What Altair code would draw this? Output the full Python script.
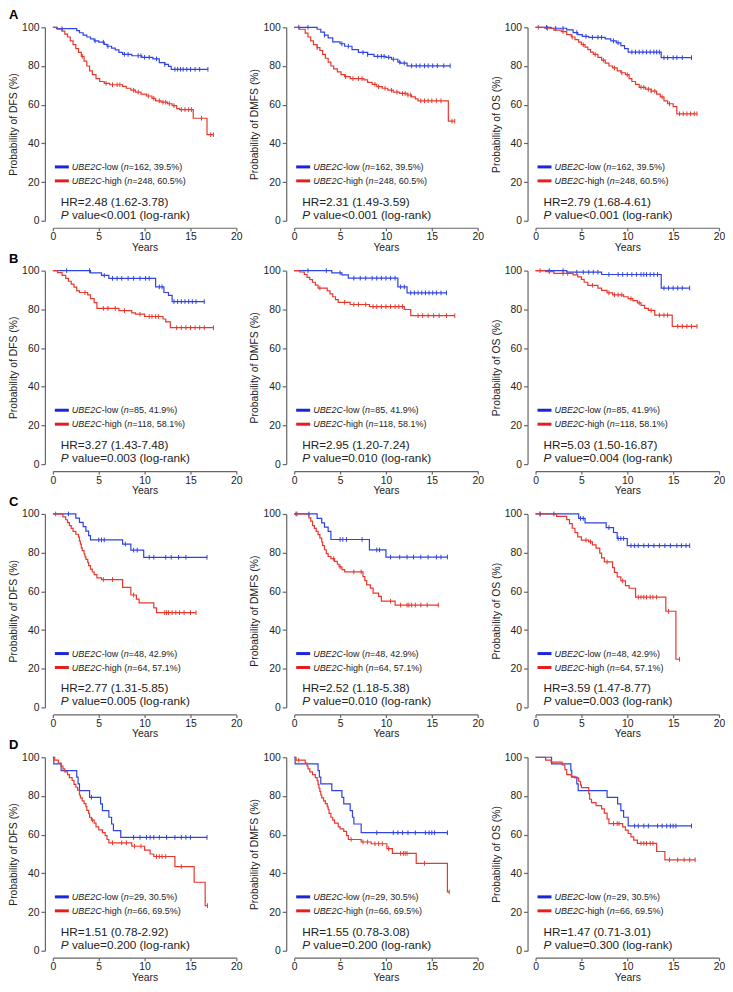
import altair as alt
import pandas as pd

FONT = "Liberation Sans"

# ---------------- text content ----------------
ROW_LETTERS = ["A", "B", "C", "D"]
ENDPOINTS = ["DFS", "DMFS", "OS"]
LOW_N = ["162, 39.5%", "85, 41.9%", "48, 42.9%", "29, 30.5%"]
HIGH_N = ["248, 60.5%", "118, 58.1%", "64, 57.1%", "66, 69.5%"]
HR_TEXT = [
    ["2.48 (1.62-3.78)", "2.31 (1.49-3.59)", "2.79 (1.68-4.61)"],
    ["3.27 (1.43-7.48)", "2.95 (1.20-7.24)", "5.03 (1.50-16.87)"],
    ["2.77 (1.31-5.85)", "2.52 (1.18-5.38)", "3.59 (1.47-8.77)"],
    ["1.51 (0.78-2.92)", "1.55 (0.78-3.08)", "1.47 (0.71-3.01)"],
]
P_TEXT = [
    ["<0.001", "<0.001", "<0.001"],
    ["=0.003", "=0.010", "=0.004"],
    ["=0.005", "=0.010", "=0.003"],
    ["=0.200", "=0.200", "=0.300"],
]
X_TICKS = [0, 5, 10, 15, 20]
Y_TICKS = [0, 20, 40, 60, 80, 100]

# ---------------- survival curves (years, %), censor times ----------------
A_DFS_LOW_T = [0, 0.4, 2.6, 2.9, 3.3, 3.7, 4.1, 4.5, 5.0, 5.6, 5.9, 6.4, 6.8, 7.2, 7.6, 8.6, 9.7, 10.9, 11.6, 12.2, 12.6, 12.9]
A_DFS_LOW_S = [100, 99.3, 98.3, 97.2, 96, 95, 94, 93, 92.3, 91.2, 90.2, 89.2, 88.3, 87, 86, 85.3, 84.5, 83.7, 81.7, 80.8, 79.8, 78.3]
A_DFS_LOW_END = 16.9
A_DFS_LOW_C = [1.0, 4.6, 5.5, 6.0, 7.8, 8.2, 9.3, 9.6, 10.0, 10.5, 11.3, 12.2, 13.3, 13.6, 13.9, 14.2, 14.6, 15.0, 15.5, 16.0, 16.9]
A_DFS_HIGH_T = [0, 0.5, 1.0, 1.3, 1.6, 1.9, 2.2, 2.5, 2.8, 3.1, 3.4, 3.7, 4.0, 4.3, 4.7, 5.1, 5.6, 6.2, 7.6, 8.0, 8.5, 9.0, 9.6, 10.2, 10.8, 11.2, 11.8, 12.5, 13.0, 13.5, 13.8, 15.3, 16.8]
A_DFS_HIGH_S = [100, 99, 98, 96.5, 95, 93, 91, 89, 87, 85, 82.5, 80, 77.5, 75.5, 73.5, 72, 71, 70.3, 69.5, 68.5, 67.5, 66.5, 65.5, 64.5, 63.3, 62, 61.3, 60.5, 59.5, 58, 57.5, 53, 44.5]
A_DFS_HIGH_END = 17.5
A_DFS_HIGH_C = [3.2, 5.8, 6.5, 7.0, 7.3, 8.8, 9.3, 10.4, 11.0, 11.6, 12.0, 12.3, 12.7, 13.2, 14.0, 14.4, 14.8, 15.1, 16.2, 17.2, 17.5]

A_DMFS_LOW_T = [0, 2.5, 2.9, 3.3, 3.7, 4.2, 5.0, 5.5, 6.3, 7.0, 8.0, 8.7, 10.0, 10.6, 11.3, 11.6, 12.3]
A_DMFS_LOW_S = [100, 99, 97.5, 96, 94.5, 92.5, 91.5, 90.2, 88.5, 87, 86, 85, 84.5, 83.5, 82, 81.5, 80.1]
A_DMFS_LOW_END = 17.0
A_DMFS_LOW_C = [0.5, 1.5, 3.3, 5.2, 5.9, 7.5, 8.0, 9.1, 9.5, 9.8, 10.3, 10.8, 11.5, 12.0, 12.8, 13.3, 13.7, 14.2, 14.6, 15.1, 15.6, 16.3, 17.0]
A_DMFS_HIGH_T = [0, 0.6, 1.2, 1.5, 1.8, 2.1, 2.5, 2.8, 3.1, 3.4, 3.7, 4.0, 4.3, 4.7, 5.1, 5.5, 6.1, 7.6, 8.0, 8.5, 9.0, 9.6, 10.2, 10.8, 11.5, 12.3, 12.8, 13.2, 13.5, 16.8]
A_DMFS_HIGH_S = [100, 99, 97, 95, 93, 91, 89.5, 88, 86, 84, 82, 80, 78.5, 77, 75.5, 74.5, 73.5, 72.8, 71.5, 70.5, 69.3, 68.5, 67.5, 66.5, 65.8, 65, 64, 63, 62, 51.5]
A_DMFS_HIGH_END = 17.5
A_DMFS_HIGH_C = [2.5, 5.6, 6.4, 7.0, 7.4, 8.8, 9.2, 9.9, 10.6, 11.2, 11.8, 12.1, 12.4, 12.7, 13.8, 14.2, 14.6, 15.0, 15.5, 16.0, 17.2, 17.5]

A_OS_LOW_T = [0, 1.7, 3.4, 4.1, 4.6, 5.1, 5.8, 7.6, 8.2, 8.8, 9.3, 9.7, 10.1, 13.7]
A_OS_LOW_S = [100, 99.5, 98.7, 97.3, 96.2, 95.3, 94.8, 94, 93, 92, 90.5, 89, 87.2, 84.3]
A_OS_LOW_END = 17.0
A_OS_LOW_C = [1.2, 2.2, 3.0, 4.5, 5.5, 6.2, 6.8, 7.2, 8.5, 9.0, 10.5, 10.9, 11.3, 11.7, 12.1, 12.5, 12.9, 13.2, 13.5, 14.0, 14.4, 15.0, 15.4, 16.0, 17.0]
A_OS_HIGH_T = [0, 1.0, 2.0, 2.8, 3.4, 3.9, 4.3, 4.7, 5.0, 5.4, 5.7, 6.0, 6.3, 6.8, 7.2, 7.6, 8.0, 8.4, 8.9, 9.3, 9.8, 10.2, 10.5, 10.9, 11.3, 12.0, 12.6, 13.2, 13.6, 14.0, 14.4, 15.0, 15.4]
A_OS_HIGH_S = [100, 99.5, 98.5, 97.8, 96.2, 95, 93.6, 92.3, 91, 89.8, 88.5, 87.2, 86, 84.5, 83, 81.5, 80, 79, 77.5, 76.5, 75.5, 73.5, 72, 70.5, 69, 68, 67, 65.5, 64, 62, 60.5, 59, 55.3]
A_OS_HIGH_END = 17.6
A_OS_HIGH_C = [0.3, 1.3, 3.0, 4.0, 5.2, 6.5, 7.4, 8.6, 9.4, 10.0, 11.5, 11.8, 12.3, 12.6, 13.0, 13.8, 14.6, 15.7, 16.1, 16.5, 16.9, 17.3, 17.6]

B_DFS_LOW_T = [0, 4.1, 5.3, 6.1, 11.2, 12.1, 12.6, 13.0]
B_DFS_LOW_S = [100, 98.8, 97.5, 96, 91.6, 88.7, 87.2, 84]
B_DFS_LOW_END = 16.5
B_DFS_LOW_C = [1.5, 4.0, 5.6, 6.5, 7.0, 7.5, 8.2, 8.8, 9.5, 10.1, 10.5, 11.6, 11.9, 13.2, 13.6, 14.0, 14.4, 14.8, 15.2, 15.6, 16.5]
B_DFS_HIGH_T = [0, 0.5, 1.0, 1.4, 1.7, 2.0, 2.3, 2.6, 2.9, 3.8, 4.1, 4.5, 4.8, 7.2, 8.6, 9.0, 10.0, 12.0, 12.3, 12.8]
B_DFS_HIGH_S = [100, 99, 97.5, 96, 94.5, 93, 91.5, 89.5, 88.7, 87.5, 85.5, 83.5, 80.5, 79.3, 78.2, 77.5, 76.3, 75, 73.5, 70.5]
B_DFS_HIGH_END = 17.5
B_DFS_HIGH_C = [3.5, 5.5, 6.0, 6.8, 7.8, 9.5, 10.5, 10.8, 11.2, 11.5, 13.5, 14.0, 14.5, 15.0, 15.5, 16.0, 16.5, 17.5]

B_DMFS_LOW_T = [0, 4.1, 5.2, 5.9, 11.3, 12.3]
B_DMFS_LOW_S = [100, 98.8, 97.8, 96.1, 91.6, 88.5]
B_DMFS_LOW_END = 16.6
B_DMFS_LOW_C = [1.5, 3.5, 5.0, 6.5, 7.2, 7.8, 8.5, 9.0, 9.5, 10.0, 10.5, 11.0, 11.6, 12.0, 12.7, 13.1, 13.5, 13.9, 14.3, 14.7, 15.1, 15.5, 16.0, 16.6]
B_DMFS_HIGH_T = [0, 0.6, 1.1, 1.4, 1.7, 2.0, 2.3, 2.6, 3.6, 3.9, 4.2, 4.5, 4.8, 6.1, 8.2, 12.0, 12.7]
B_DMFS_HIGH_S = [100, 99.3, 98, 96.5, 95.3, 94, 92.5, 91, 89.5, 88, 86.5, 85, 83.6, 82.5, 81.4, 79.9, 76.7]
B_DMFS_HIGH_END = 17.5
B_DMFS_HIGH_C = [2.8, 5.5, 6.5, 7.0, 7.8, 8.6, 9.0, 9.5, 10.0, 10.5, 11.0, 11.4, 11.8, 13.5, 14.0, 14.6, 15.2, 15.8, 16.6, 17.5]

B_OS_LOW_T = [0, 3.4, 7.2, 13.7]
B_OS_LOW_S = [100, 99.2, 98, 91]
B_OS_LOW_END = 16.8
B_OS_LOW_C = [1.5, 3.0, 4.5, 5.2, 5.8, 6.3, 6.8, 8.0, 9.0, 9.5, 10.0, 10.5, 11.0, 11.5, 11.8, 12.1, 12.5, 12.9, 13.3, 14.0, 14.5, 15.0, 15.5, 16.0, 16.8]
B_OS_HIGH_T = [0, 1.1, 2.0, 4.1, 4.6, 5.0, 5.3, 5.7, 6.8, 7.2, 7.8, 8.4, 9.6, 10.1, 10.6, 11.1, 11.5, 11.9, 12.3, 13.0, 14.9]
B_OS_HIGH_S = [100, 99.5, 98.6, 97.8, 96.8, 95.5, 94, 92.4, 91, 89.8, 88.5, 87.5, 86.5, 85.5, 84.5, 83.3, 82, 80.5, 79.5, 77, 71.2]
B_OS_HIGH_END = 17.6
B_OS_HIGH_C = [0.5, 1.5, 3.0, 3.5, 6.2, 8.0, 8.6, 9.0, 9.4, 10.4, 11.3, 12.6, 13.5, 14.0, 14.4, 15.5, 16.0, 16.5, 17.0, 17.6]

C_DFS_LOW_T = [0, 2.5, 2.9, 3.3, 3.6, 3.9, 4.1, 7.6, 8.5, 9.9]
C_DFS_LOW_S = [100, 97.8, 95.6, 93.4, 91.1, 88.8, 86.6, 84.4, 81.3, 77.6]
C_DFS_LOW_END = 16.8
C_DFS_LOW_C = [1.7, 5.0, 5.3, 5.6, 7.9, 8.8, 9.2, 10.5, 11.0, 12.3, 12.9, 13.7, 14.5, 16.8]
C_DFS_HIGH_T = [0, 1.1, 1.4, 1.6, 1.8, 2.0, 2.2, 2.5, 2.8, 2.9, 3.0, 3.1, 3.2, 3.4, 3.5, 3.6, 3.8, 3.9, 4.1, 4.3, 4.5, 4.8, 5.3, 7.6, 8.5, 9.1, 9.4, 11.0, 11.3]
C_DFS_HIGH_S = [100, 98.5, 97, 95.5, 94, 92.5, 91, 89.5, 88, 86, 84.4, 82.5, 81, 79.3, 77.8, 76.5, 75, 73.3, 71.5, 70, 68.6, 67, 66.1, 62, 58.1, 56, 54, 51.5, 49]
C_DFS_HIGH_END = 15.6
C_DFS_HIGH_C = [0.3, 5.5, 6.5, 8.8, 12.2, 12.4, 12.6, 13.0, 13.4, 13.8, 14.3, 15.0, 15.6]

C_DMFS_LOW_T = [0, 2.5, 3.0, 3.3, 3.7, 4.0, 8.2, 10.0]
C_DMFS_LOW_S = [100, 97.7, 95.4, 93.2, 91, 86.8, 81.4, 77.7]
C_DMFS_LOW_END = 16.7
C_DMFS_LOW_C = [0.2, 1.6, 5.0, 5.3, 5.7, 7.4, 9.0, 9.3, 10.5, 11.5, 12.3, 13.0, 13.8, 14.6, 15.5, 16.0, 16.7]
C_DMFS_HIGH_T = [0, 1.6, 1.8, 2.0, 2.2, 2.4, 2.6, 2.8, 3.0, 3.1, 3.3, 3.5, 3.7, 4.0, 4.4, 4.7, 4.9, 5.2, 5.5, 7.5, 7.7, 7.9, 8.3, 8.6, 9.2, 9.5, 11.0]
C_DMFS_HIGH_S = [100, 98, 96.3, 94, 92.5, 91, 89.3, 87.5, 85.5, 83.6, 81.5, 79.5, 78, 76.9, 75.5, 74, 72.6, 71.2, 70.1, 67.6, 65.5, 63.3, 61.7, 59.1, 57.4, 54.9, 52.9]
C_DMFS_HIGH_END = 15.7
C_DMFS_HIGH_C = [0.3, 4.3, 5.0, 6.5, 7.3, 10.5, 11.6, 12.3, 12.5, 12.8, 13.2, 13.8, 14.5, 15.7]

C_OS_LOW_T = [0, 4.7, 5.4, 7.7, 8.5, 8.9, 10.0]
C_OS_LOW_S = [100, 97.7, 95.4, 92.9, 90.4, 87.3, 83.6]
C_OS_LOW_END = 16.8
C_OS_LOW_C = [0.5, 2.0, 4.9, 5.2, 8.0, 9.0, 9.3, 9.6, 10.4, 10.8, 11.2, 11.8, 12.3, 12.9, 13.5, 14.1, 14.7, 15.4, 15.9, 16.4, 16.8]
C_OS_HIGH_T = [0, 2.3, 3.4, 3.7, 4.0, 4.3, 4.6, 5.0, 5.8, 6.2, 6.6, 7.0, 7.2, 7.5, 8.4, 8.6, 8.9, 9.3, 9.8, 10.2, 10.9, 14.2, 15.3]
C_OS_HIGH_S = [100, 98.7, 97.1, 95, 92.6, 90.3, 88.2, 86.5, 85.6, 84, 82.3, 79.8, 77.3, 75.2, 72.3, 69.8, 67.5, 65.4, 63, 61.6, 57, 49.7, 24.9]
C_OS_HIGH_END = 15.7
C_OS_HIGH_C = [0.5, 5.5, 6.0, 7.8, 9.5, 11.2, 11.5, 11.8, 12.1, 12.5, 12.8, 13.2, 14.5, 15.7]

D_DFS_LOW_T = [0, 0.1, 0.9, 2.6, 2.75, 2.9, 4.0, 5.2, 5.4, 6.1, 6.4, 6.6, 7.4]
D_DFS_LOW_S = [100, 96.6, 93.1, 89.7, 86.2, 82.8, 79.3, 75.9, 72.4, 69, 65.5, 62.1, 58.6]
D_DFS_LOW_END = 16.8
D_DFS_LOW_C = [4.2, 8.8, 9.5, 10.2, 10.6, 11.0, 11.6, 12.4, 13.3, 14.0, 14.5, 15.0, 16.8]
D_DFS_HIGH_T = [0, 0.2, 0.6, 0.9, 1.1, 1.3, 1.6, 1.8, 2.1, 2.3, 2.5, 2.7, 2.9, 3.0, 3.2, 3.4, 3.6, 3.7, 3.9, 4.0, 4.2, 4.5, 4.7, 5.0, 5.4, 5.7, 5.9, 6.1, 8.6, 10.0, 10.6, 11.0, 13.3, 15.4, 16.6]
D_DFS_HIGH_S = [100, 98.5, 97, 95.5, 94, 92.5, 91, 89.5, 88, 86, 84.5, 83, 80.5, 79, 77.5, 76, 74.5, 72.5, 71, 69, 67.5, 66, 64, 62.5, 61, 59.5, 57.5, 55.8, 54, 52, 50, 48.7, 43.5, 35.4, 23.3]
D_DFS_HIGH_END = 16.85
D_DFS_HIGH_C = [4.3, 6.5, 7.5, 8.0, 8.9, 9.6, 11.3, 11.6, 11.9, 12.3, 14.0, 16.85]

D_DMFS_LOW_T = [0, 0.1, 2.6, 2.75, 2.9, 4.1, 5.2, 5.4, 6.1, 6.35, 6.5, 7.3]
D_DMFS_LOW_S = [100, 96.6, 93.1, 89.7, 86.2, 82.8, 79.3, 75.9, 72.4, 69, 65.5, 61]
D_DMFS_LOW_END = 16.7
D_DMFS_LOW_C = [9.0, 10.8, 11.3, 11.8, 12.4, 13.2, 14.3, 14.7, 15.0, 15.3, 16.7]
D_DMFS_HIGH_T = [0, 0.2, 1.2, 1.4, 1.5, 1.7, 2.0, 2.3, 2.5, 2.6, 2.7, 2.8, 2.9, 3.0, 3.2, 3.4, 3.6, 3.7, 3.8, 4.0, 4.2, 4.4, 4.8, 5.0, 5.4, 5.7, 5.9, 7.3, 8.4, 10.1, 10.7, 13.3, 16.7]
D_DMFS_HIGH_S = [100, 98.5, 97, 95.5, 94, 92.5, 91, 89.5, 88, 86, 84, 82.3, 80.5, 79, 77.5, 76, 74.5, 73, 71, 69, 67.5, 66, 64, 63, 61.7, 59.5, 57.5, 56.2, 55.3, 52.8, 50.3, 45.2, 30.4]
D_DMFS_HIGH_END = 16.9
D_DMFS_HIGH_C = [0.5, 6.2, 7.5, 8.0, 8.8, 9.2, 9.6, 10.3, 11.6, 11.9, 12.1, 12.3, 14.2, 16.9]

D_OS_LOW_T = [0, 1.75, 3.85, 3.95, 4.5, 4.65, 7.8, 8.95, 9.3, 9.6, 10.1]
D_OS_LOW_S = [100, 96.6, 93.1, 89.7, 86.2, 82.8, 79.3, 75.9, 72.4, 69, 64.5]
D_OS_LOW_END = 17.0
D_OS_LOW_C = [10.8, 11.2, 11.8, 12.3, 13.3, 13.8, 14.3, 14.7, 15.0, 15.3, 17.0]
D_OS_HIGH_T = [0, 1.1, 1.7, 2.9, 3.2, 3.4, 3.9, 4.3, 4.7, 4.9, 5.0, 5.8, 5.9, 6.1, 6.6, 7.2, 7.5, 7.8, 8.0, 9.5, 9.8, 10.1, 10.4, 10.7, 11.1, 13.2, 14.1]
D_OS_HIGH_S = [100, 98.5, 97.5, 96, 93.6, 91, 90.2, 89.3, 87.6, 85.6, 84.3, 81.2, 78.3, 76.6, 75, 73.3, 71.1, 68.2, 65.7, 64, 62.3, 60.6, 58.9, 57.2, 55.5, 51.3, 47]
D_OS_HIGH_END = 17.4
D_OS_HIGH_C = [8.5, 8.9, 9.1, 11.5, 11.8, 12.1, 12.5, 12.8, 14.6, 15.5, 16.2, 16.8, 17.4]

CURVES = [
    [
        (A_DFS_LOW_T, A_DFS_LOW_S, A_DFS_LOW_END, A_DFS_LOW_C, A_DFS_HIGH_T, A_DFS_HIGH_S, A_DFS_HIGH_END, A_DFS_HIGH_C),
        (A_DMFS_LOW_T, A_DMFS_LOW_S, A_DMFS_LOW_END, A_DMFS_LOW_C, A_DMFS_HIGH_T, A_DMFS_HIGH_S, A_DMFS_HIGH_END, A_DMFS_HIGH_C),
        (A_OS_LOW_T, A_OS_LOW_S, A_OS_LOW_END, A_OS_LOW_C, A_OS_HIGH_T, A_OS_HIGH_S, A_OS_HIGH_END, A_OS_HIGH_C),
    ],
    [
        (B_DFS_LOW_T, B_DFS_LOW_S, B_DFS_LOW_END, B_DFS_LOW_C, B_DFS_HIGH_T, B_DFS_HIGH_S, B_DFS_HIGH_END, B_DFS_HIGH_C),
        (B_DMFS_LOW_T, B_DMFS_LOW_S, B_DMFS_LOW_END, B_DMFS_LOW_C, B_DMFS_HIGH_T, B_DMFS_HIGH_S, B_DMFS_HIGH_END, B_DMFS_HIGH_C),
        (B_OS_LOW_T, B_OS_LOW_S, B_OS_LOW_END, B_OS_LOW_C, B_OS_HIGH_T, B_OS_HIGH_S, B_OS_HIGH_END, B_OS_HIGH_C),
    ],
    [
        (C_DFS_LOW_T, C_DFS_LOW_S, C_DFS_LOW_END, C_DFS_LOW_C, C_DFS_HIGH_T, C_DFS_HIGH_S, C_DFS_HIGH_END, C_DFS_HIGH_C),
        (C_DMFS_LOW_T, C_DMFS_LOW_S, C_DMFS_LOW_END, C_DMFS_LOW_C, C_DMFS_HIGH_T, C_DMFS_HIGH_S, C_DMFS_HIGH_END, C_DMFS_HIGH_C),
        (C_OS_LOW_T, C_OS_LOW_S, C_OS_LOW_END, C_OS_LOW_C, C_OS_HIGH_T, C_OS_HIGH_S, C_OS_HIGH_END, C_OS_HIGH_C),
    ],
    [
        (D_DFS_LOW_T, D_DFS_LOW_S, D_DFS_LOW_END, D_DFS_LOW_C, D_DFS_HIGH_T, D_DFS_HIGH_S, D_DFS_HIGH_END, D_DFS_HIGH_C),
        (D_DMFS_LOW_T, D_DMFS_LOW_S, D_DMFS_LOW_END, D_DMFS_LOW_C, D_DMFS_HIGH_T, D_DMFS_HIGH_S, D_DMFS_HIGH_END, D_DMFS_HIGH_C),
        (D_OS_LOW_T, D_OS_LOW_S, D_OS_LOW_END, D_OS_LOW_C, D_OS_HIGH_T, D_OS_HIGH_S, D_OS_HIGH_END, D_OS_HIGH_C),
    ],
]

# ---------------- styling / layout ----------------
W, H = 184, 194
BLUE, RED = "#2f43e3", "#e8382d"
LEG_BLUE, LEG_RED = "#1b25dd", "#e31f1f"
TXT = "#222222"
AX = "#666666"
LEG_FS = 9.0
HR_FS = 11.8

ARIAL_W = {' ': 278, '%': 889, '(': 333, ')': 333, ',': 278, '-': 333, '.': 278,
           '<': 584, '=': 584, 'B': 667, 'C': 722, 'E': 667, 'H': 722, 'P': 667,
           'R': 722, 'U': 722, 'a': 556, 'e': 556, 'g': 556, 'h': 556, 'i': 222,
           'k': 500, 'l': 222, 'n': 556, 'o': 556, 'r': 333, 'u': 556, 'v': 500, 'w': 722}


def tw(s, fs):
    return sum(ARIAL_W.get(ch, 556) for ch in s) * fs / 1000.0


def px_t(px):
    return px * 20.0 / W


def px_s(off_from_bottom):
    return off_from_bottom * 100.0 / H


def step_value(ts, ss, t):
    v = ss[0]
    for ti, si in zip(ts, ss):
        if ti <= t:
            v = si
    return v


def panel(r, c):
    lt, ls, le, lc, ht, hs, he, hc = CURVES[r][c]
    xs = alt.Scale(domain=[0, 20], nice=False, zero=False)
    ys = alt.Scale(domain=[0, 100], nice=False, zero=False)
    xaxis = alt.Axis(values=X_TICKS, title="Years", offset=7, tickSize=3,
                     labelPadding=1, titlePadding=0, labelFlush=False, grid=False)
    yaxis = alt.Axis(values=Y_TICKS, title=f"Probability of {ENDPOINTS[c]} (%)",
                     offset=8, tickSize=4, labelPadding=2, titlePadding=3, grid=False)
    X = alt.X("t:Q", scale=xs, axis=xaxis)
    Y = alt.Y("s:Q", scale=ys, axis=yaxis)
    cscale = alt.Scale(domain=["low", "high"], range=[BLUE, RED])

    line_df = pd.concat([
        pd.DataFrame({"t": list(lt) + [le], "s": list(ls) + [ls[-1]], "g": "low"}),
        pd.DataFrame({"t": list(ht) + [he], "s": list(hs) + [hs[-1]], "g": "high"}),
    ], ignore_index=True)
    cens_df = pd.concat([
        pd.DataFrame({"t": lc, "s": [step_value(lt, ls, t) for t in lc], "g": "low"}),
        pd.DataFrame({"t": hc, "s": [step_value(ht, hs, t) for t in hc], "g": "high"}),
    ], ignore_index=True)

    lines = alt.Chart(line_df).mark_line(interpolate="step-after", strokeWidth=1.2).encode(
        x=X, y=Y, color=alt.Color("g:N", scale=cscale, legend=None), order="t:Q")
    cens = alt.Chart(cens_df).mark_point(shape="M0,-1L0,1", size=22, strokeWidth=1,
                                         filled=False, opacity=1).encode(
        x=X, y=Y, color=alt.Color("g:N", scale=cscale, legend=None))

    # legend (inside plot, positioned in pixels, converted to data units)
    y_low, y_high = px_s(54), px_s(40)
    leg_rule_low = alt.Chart(pd.DataFrame({"t": [px_t(2)], "t2": [px_t(16)], "s": [y_low]})).mark_rule(
        strokeWidth=3, color=LEG_BLUE).encode(x=X, x2="t2:Q", y=Y)
    leg_rule_high = alt.Chart(pd.DataFrame({"t": [px_t(2)], "t2": [px_t(16)], "s": [y_high]})).mark_rule(
        strokeWidth=3, color=LEG_RED).encode(x=X, x2="t2:Q", y=Y)

    ital, norm = [], []
    for label, nval, yv in (("-low (", LOW_N[r], y_low), ("-high (", HIGH_N[r], y_high)):
        segs = [("UBE2C", True), (label, False), ("n", True), ("=" + nval + ")", False)]
        x = 19.0
        for s, it in segs:
            (ital if it else norm).append({"t": px_t(x), "s": yv, "txt": s.strip()})
            x += tw(s, LEG_FS)
    leg_it = alt.Chart(pd.DataFrame(ital)).mark_text(
        align="left", baseline="middle", font=FONT, fontSize=LEG_FS, fontStyle="italic",
        color=TXT).encode(x=X, y=Y, text="txt:N")
    leg_no = alt.Chart(pd.DataFrame(norm)).mark_text(
        align="left", baseline="middle", font=FONT, fontSize=LEG_FS, color=TXT).encode(
        x=X, y=Y, text="txt:N")

    hr_norm = pd.DataFrame({
        "t": [px_t(8), px_t(8 + tw("P ", HR_FS))],
        "s": [px_s(19), px_s(6)],
        "txt": ["HR=" + HR_TEXT[r][c], "value" + P_TEXT[r][c] + " (log-rank)"],
    })
    hr_it = pd.DataFrame({"t": [px_t(8)], "s": [px_s(6)], "txt": ["P"]})
    hr_no_l = alt.Chart(hr_norm).mark_text(align="left", baseline="middle", font=FONT,
                                           fontSize=HR_FS, color=TXT).encode(x=X, y=Y, text="txt:N")
    hr_it_l = alt.Chart(hr_it).mark_text(align="left", baseline="middle", font=FONT, fontSize=HR_FS,
                                         fontStyle="italic", color=TXT).encode(x=X, y=Y, text="txt:N")

    layers = [lines, cens, leg_rule_low, leg_rule_high, leg_it, leg_no, hr_no_l, hr_it_l]
    if c == 0:
        letter = alt.Chart(pd.DataFrame({"k": [ROW_LETTERS[r]]})).mark_text(
            align="left", baseline="middle", font=FONT, fontSize=13, fontWeight="bold",
            color="#000").encode(x=alt.value(-44), y=alt.value(-12), text="k:N")
        layers.append(letter)
    return alt.layer(*layers).properties(width=W, height=H)


rows = [alt.hconcat(*[panel(r, c) for c in range(3)], spacing=7) for r in range(4)]
chart = alt.vconcat(*rows, spacing=0).properties(
    padding={"left": 0, "top": 0, "right": 0, "bottom": 0}
).configure(font=FONT).configure_view(stroke=None).configure_axis(
    domainColor=AX, tickColor=AX, domainWidth=1.2, tickWidth=1.2,
    labelColor=TXT, titleColor=TXT, labelFontSize=10.4, titleFontSize=10.4,
    titleFontWeight="normal", labelFont=FONT, titleFont=FONT,
)

chart.save("out.html", embed_options={"renderer": "svg", "actions": False})
